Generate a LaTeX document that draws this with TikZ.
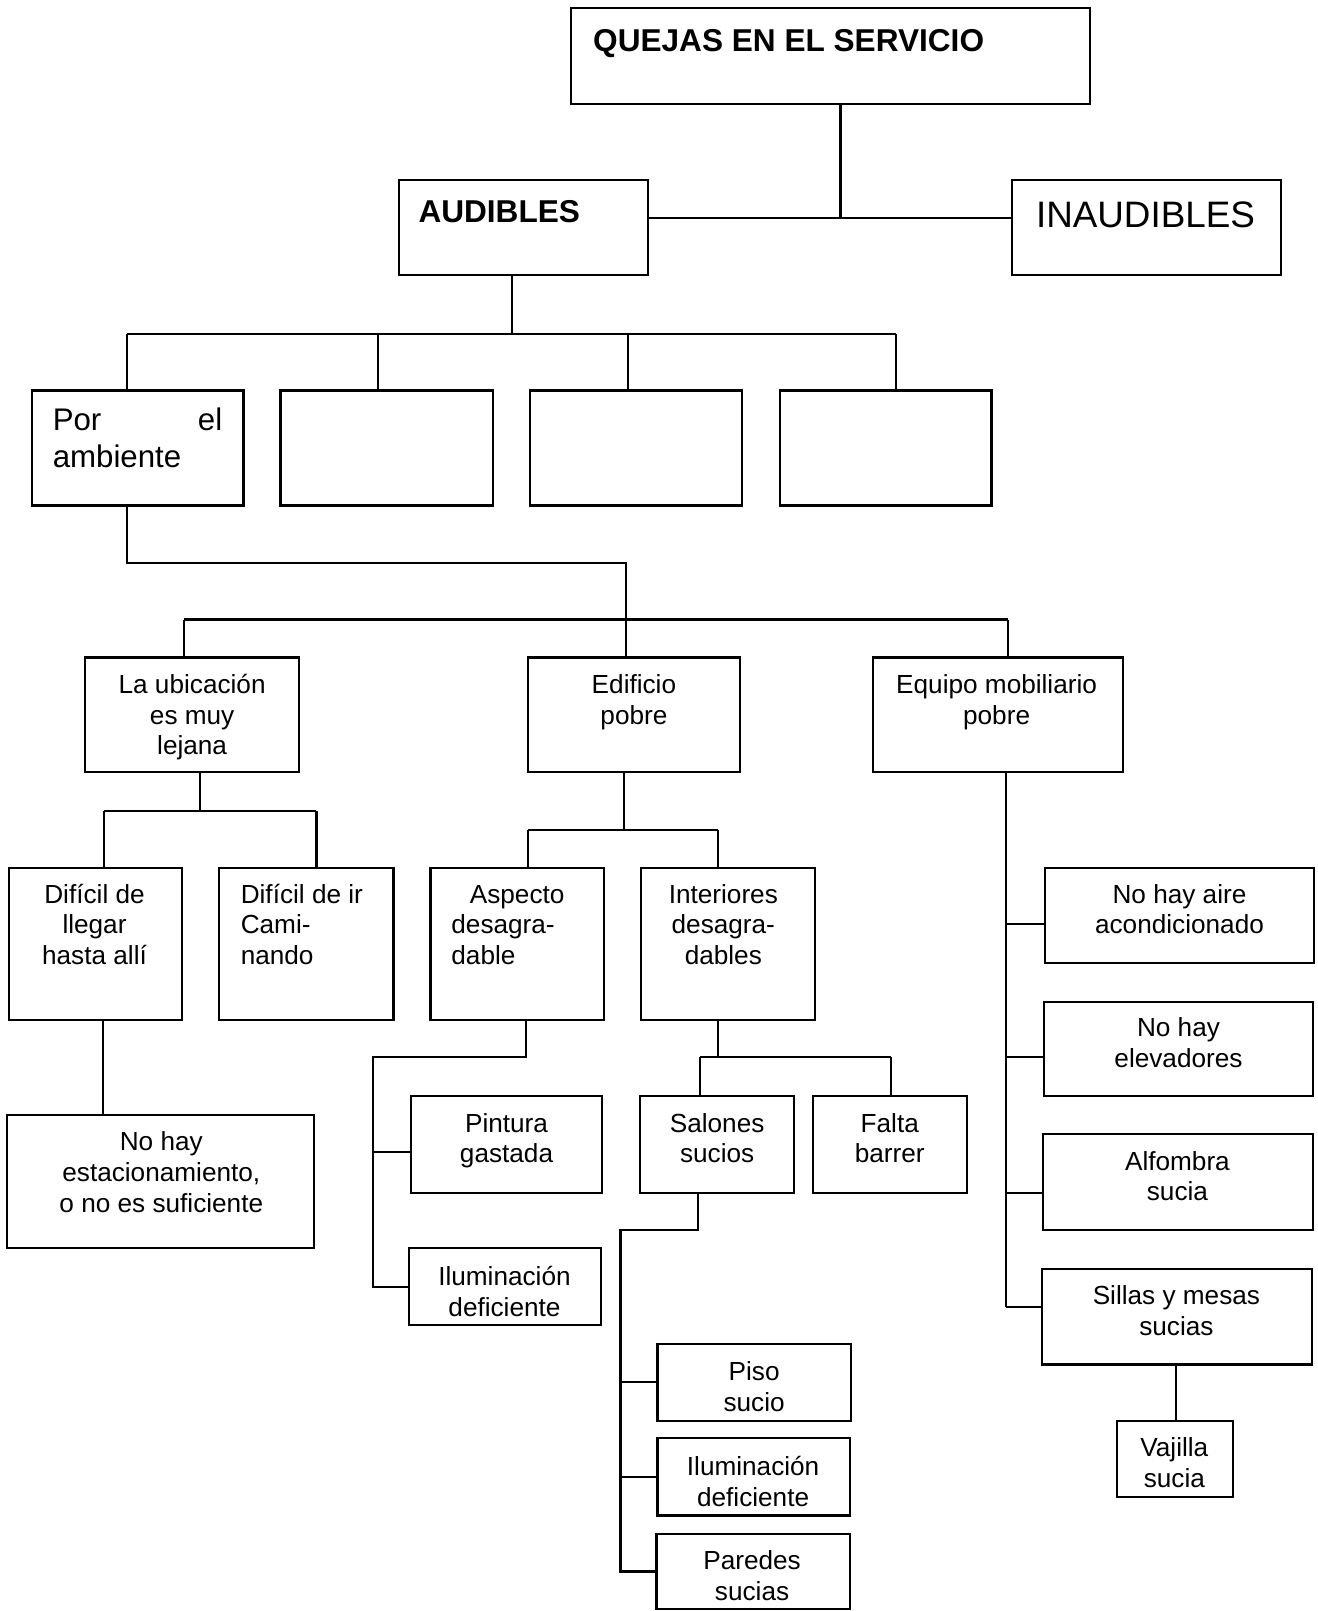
\documentclass[tikz,border=0pt]{standalone}
\usepackage{fontspec}
\setmainfont{Liberation Sans}
\usetikzlibrary{fit}

% type sizes
\newcommand\fbody{\fontsize{14.5pt}{17pt}\selectfont}
\newcommand\fmid{\fontsize{17.3pt}{20.4pt}\selectfont}
\newcommand\ftitle{\fontsize{17.5pt}{21pt}\selectfont\bfseries}
\newcommand\fbig{\fontsize{20.4pt}{24pt}\selectfont}
% stacked lines, first baseline on the node's base
\newcommand\cl[1]{\begin{tabular}[t]{@{}c@{}}#1\end{tabular}}
\newcommand\lcol[1]{\begin{tabular}[t]{@{}l@{}}#1\end{tabular}}

\begin{document}
\begin{tikzpicture}[x=0.02cm,y=-0.02cm,
  box/.style={draw, line width=1.2pt, inner sep=0pt},
  lbl/.style={inner sep=0pt, font=\fbody, anchor=base},
  lbll/.style={inner sep=0pt, font=\fbody, anchor=base west},
  wire/.style={line width=1.2pt}]

\fill[white] (0,0) rectangle (1282,1568);
\useasboundingbox (0,0) rectangle (1282,1568);

% ---------- top ----------
\node[box, fit={(556,8)(1061,101)}] (quejas) {};
\node[lbll, font=\ftitle] (quejasT) at (577,50) {QUEJAS EN EL SERVICIO};
\node[box, fit={(388,175)(631,268)}] (audibles) {};
\node[lbll, font=\ftitle] (audiblesT) at (407,217) {AUDIBLES};
\node[box, fit={(985,175)(1247,268)}] (inaudibles) {};
\node[lbll, font=\fbig] (inaudiblesT) at (1008,221) {INAUDIBLES};

% ---------- second row ----------
\node[box, fit={(31,380)(237,492)}] (ambiente) {};
\node[lbll, font=\fmid] (ambienteT) at (51,419) {\lcol{\makebox[3.3cm][s]{Por\hfill el}\\ambiente}};
\node[box, fit={(273,380)(480,492)}] (vacioA) {};
\node[box, fit={(516,380)(722,492)}] (vacioB) {};
\node[box, fit={(759,380)(965,492)}] (vacioC) {};

% ---------- third row ----------
\node[box, fit={(83,640)(291,751)}] (ubicacion) {};
\node[lbl] (ubicacionT) at (187,675) {\cl{La ubicación\\es muy\\lejana}};
\node[box, fit={(514,640)(720,751)}] (edificio) {};
\node[lbl] (edificioT) at (617,675) {\cl{Edificio\\pobre}};
\node[box, fit={(850,640)(1093,751)}] (equipo) {};
\node[lbl] (equipoT) at (970,675) {\cl{Equipo mobiliario\\pobre}};

% ---------- fourth row ----------
\node[box, fit={(9,845)(177,993)}] (llegar) {};
\node[lbl] (llegarT) at (92,879) {\cl{Difícil de\\llegar\\hasta allí}};
\node[box, fit={(213,845)(383,993)}] (caminar) {};
\node[lbll] (caminarT) at (234,879) {\lcol{Difícil de ir\\Cami-\\nando}};
\node[box, fit={(419,845)(588,993)}] (aspecto) {};
\node[lbll] (aspectoT) at (439,879) {\lcol{\hspace{0.36cm}Aspecto\\desagra-\\dable}};
\node[box, fit={(624,845)(793,993)}] (interiores) {};
\node[lbl] (interioresT) at (704,879) {\cl{Interiores\\desagra-\\dables}};

% ---------- furniture column ----------
\node[box, fit={(1017,845)(1279,937)}] (aire) {};
\node[lbl] (aireT) at (1148,879) {\cl{No hay aire\\acondicionado}};
\node[box, fit={(1016,975)(1278,1067)}] (elevadores) {};
\node[lbl] (elevadoresT) at (1147,1009) {\cl{No hay\\elevadores}};
\node[box, fit={(1015,1104)(1278,1197)}] (alfombra) {};
\node[lbl] (alfombraT) at (1146,1139) {\cl{Alfombra\\sucia}};
\node[box, fit={(1014,1235)(1277,1328)}] (sillas) {};
\node[lbl] (sillasT) at (1145,1270) {\cl{Sillas y mesas\\sucias}};
\node[box, fit={(1087,1383)(1200,1457)}] (vajilla) {};
\node[lbl] (vajillaT) at (1143,1418) {\cl{Vajilla\\sucia}};

% ---------- lower rows ----------
\node[box, fit={(7,1085)(306,1215)}] (estac) {};
\node[lbl] (estacT) at (157,1120) {\cl{No hay\\estacionamiento,\\o no es suficiente}};
\node[box, fit={(400,1067)(586,1161)}] (pintura) {};
\node[lbl] (pinturaT) at (493,1102) {\cl{Pintura\\gastada}};
\node[box, fit={(398,1215)(585,1290)}] (iluminA) {};
\node[lbl] (iluminAT) at (491,1251) {\cl{Iluminación\\deficiente}};
\node[box, fit={(623,1067)(773,1161)}] (salones) {};
\node[lbl] (salonesT) at (698,1102) {\cl{Salones\\sucios}};
\node[box, fit={(791,1067)(941,1161)}] (falta) {};
\node[lbl] (faltaT) at (866,1102) {\cl{Falta\\barrer}};
\node[box, fit={(640,1308)(828,1383)}] (piso) {};
\node[lbl] (pisoT) at (734,1344) {\cl{Piso\\sucio}};
\node[box, fit={(640,1400)(827,1475)}] (iluminB) {};
\node[lbl] (iluminBT) at (733,1436) {\cl{Iluminación\\deficiente}};
\node[box, fit={(639,1493)(827,1566)}] (paredes) {};
\node[lbl] (paredesT) at (732,1528) {\cl{Paredes\\sucias}};

% ---------- junction points ----------
\coordinate (j0) at (818,212);
\coordinate (j1) at (498,325);
\coordinate (b1L) at (124,325);
\coordinate (b1a) at (368,325);
\coordinate (b1b) at (611,325);
\coordinate (b1R) at (872,325);
\coordinate (c1) at (124,548);
\coordinate (c2) at (609,548);
\coordinate (b2L) at (179,603);
\coordinate (b2R) at (981,603);
\coordinate (d0) at (195,789);
\coordinate (d1) at (101,789);
\coordinate (d2) at (308,789);
\coordinate (e0) at (100,1040);
\coordinate (f0) at (607,808);
\coordinate (f1) at (514,808);
\coordinate (f2) at (699,808);
\coordinate (g0) at (512,1029);
\coordinate (g1) at (363,1029);
\coordinate (g2) at (363,1121);
\coordinate (h0) at (699,1029);
\coordinate (h1) at (681,1029);
\coordinate (h2) at (867,1029);
\coordinate (k0) at (679,1197);
\coordinate (k1) at (604,1197);
\coordinate (m1) at (979,899);
\coordinate (m2) at (979,1029);
\coordinate (m3) at (979,1161);
\coordinate (m4) at (979,1272);
\coordinate (n0) at (1145,1350);

% ---------- connectors ----------
\begin{scope}[wire]
\draw (quejas.south -| j0) -- (j0);
\draw (audibles.east |- j0) -- (inaudibles.west |- j0);

\draw (audibles.south -| j1) -- (j1);
\draw (b1L) -- (b1R);
\draw (b1L) -- (ambiente.north -| b1L);
\draw (b1a) -- (vacioA.north -| b1a);
\draw (b1b) -- (vacioB.north -| b1b);
\draw (b1R) -- (vacioC.north -| b1R);

\draw (ambiente.south -| c1) -- (c1) -- (c2) -- (edificio.north -| c2);
\draw (b2L) -- (b2R);
\draw (b2L) -- (ubicacion.north -| b2L);
\draw (b2R) -- (equipo.north -| b2R);

\draw (ubicacion.south -| d0) -- (d0);
\draw (d1) -- (d2);
\draw (d1) -- (llegar.north -| d1);
\draw (d2) -- (caminar.north -| d2);
\draw (llegar.south -| e0) -- (estac.north -| e0);

\draw (edificio.south -| f0) -- (f0);
\draw (f1) -- (f2);
\draw (f1) -- (aspecto.north -| f1);
\draw (f2) -- (interiores.north -| f2);

\draw (aspecto.south -| g0) -- (g0) -- (g1) |- (iluminA.west);
\draw (g2) -- (pintura.west |- g2);

\draw (interiores.south -| h0) -- (h0);
\draw (h1) -- (h2);
\draw (h1) -- (salones.north -| h1);
\draw (h2) -- (falta.north -| h2);

\draw (salones.south -| k0) -- (k0) -- (k1) |- (paredes.west);
\draw (k1 |- piso.west) -- (piso.west);
\draw (k1 |- iluminB.west) -- (iluminB.west);

\draw (equipo.south -| m1) -- (m4);
\draw (m1) -- (aire.west |- m1);
\draw (m2) -- (elevadores.west |- m2);
\draw (m3) -- (alfombra.west |- m3);
\draw (m4) -- (sillas.west |- m4);
\draw (sillas.south -| n0) -- (vajilla.north -| n0);
\end{scope}

\end{tikzpicture}
\end{document}
